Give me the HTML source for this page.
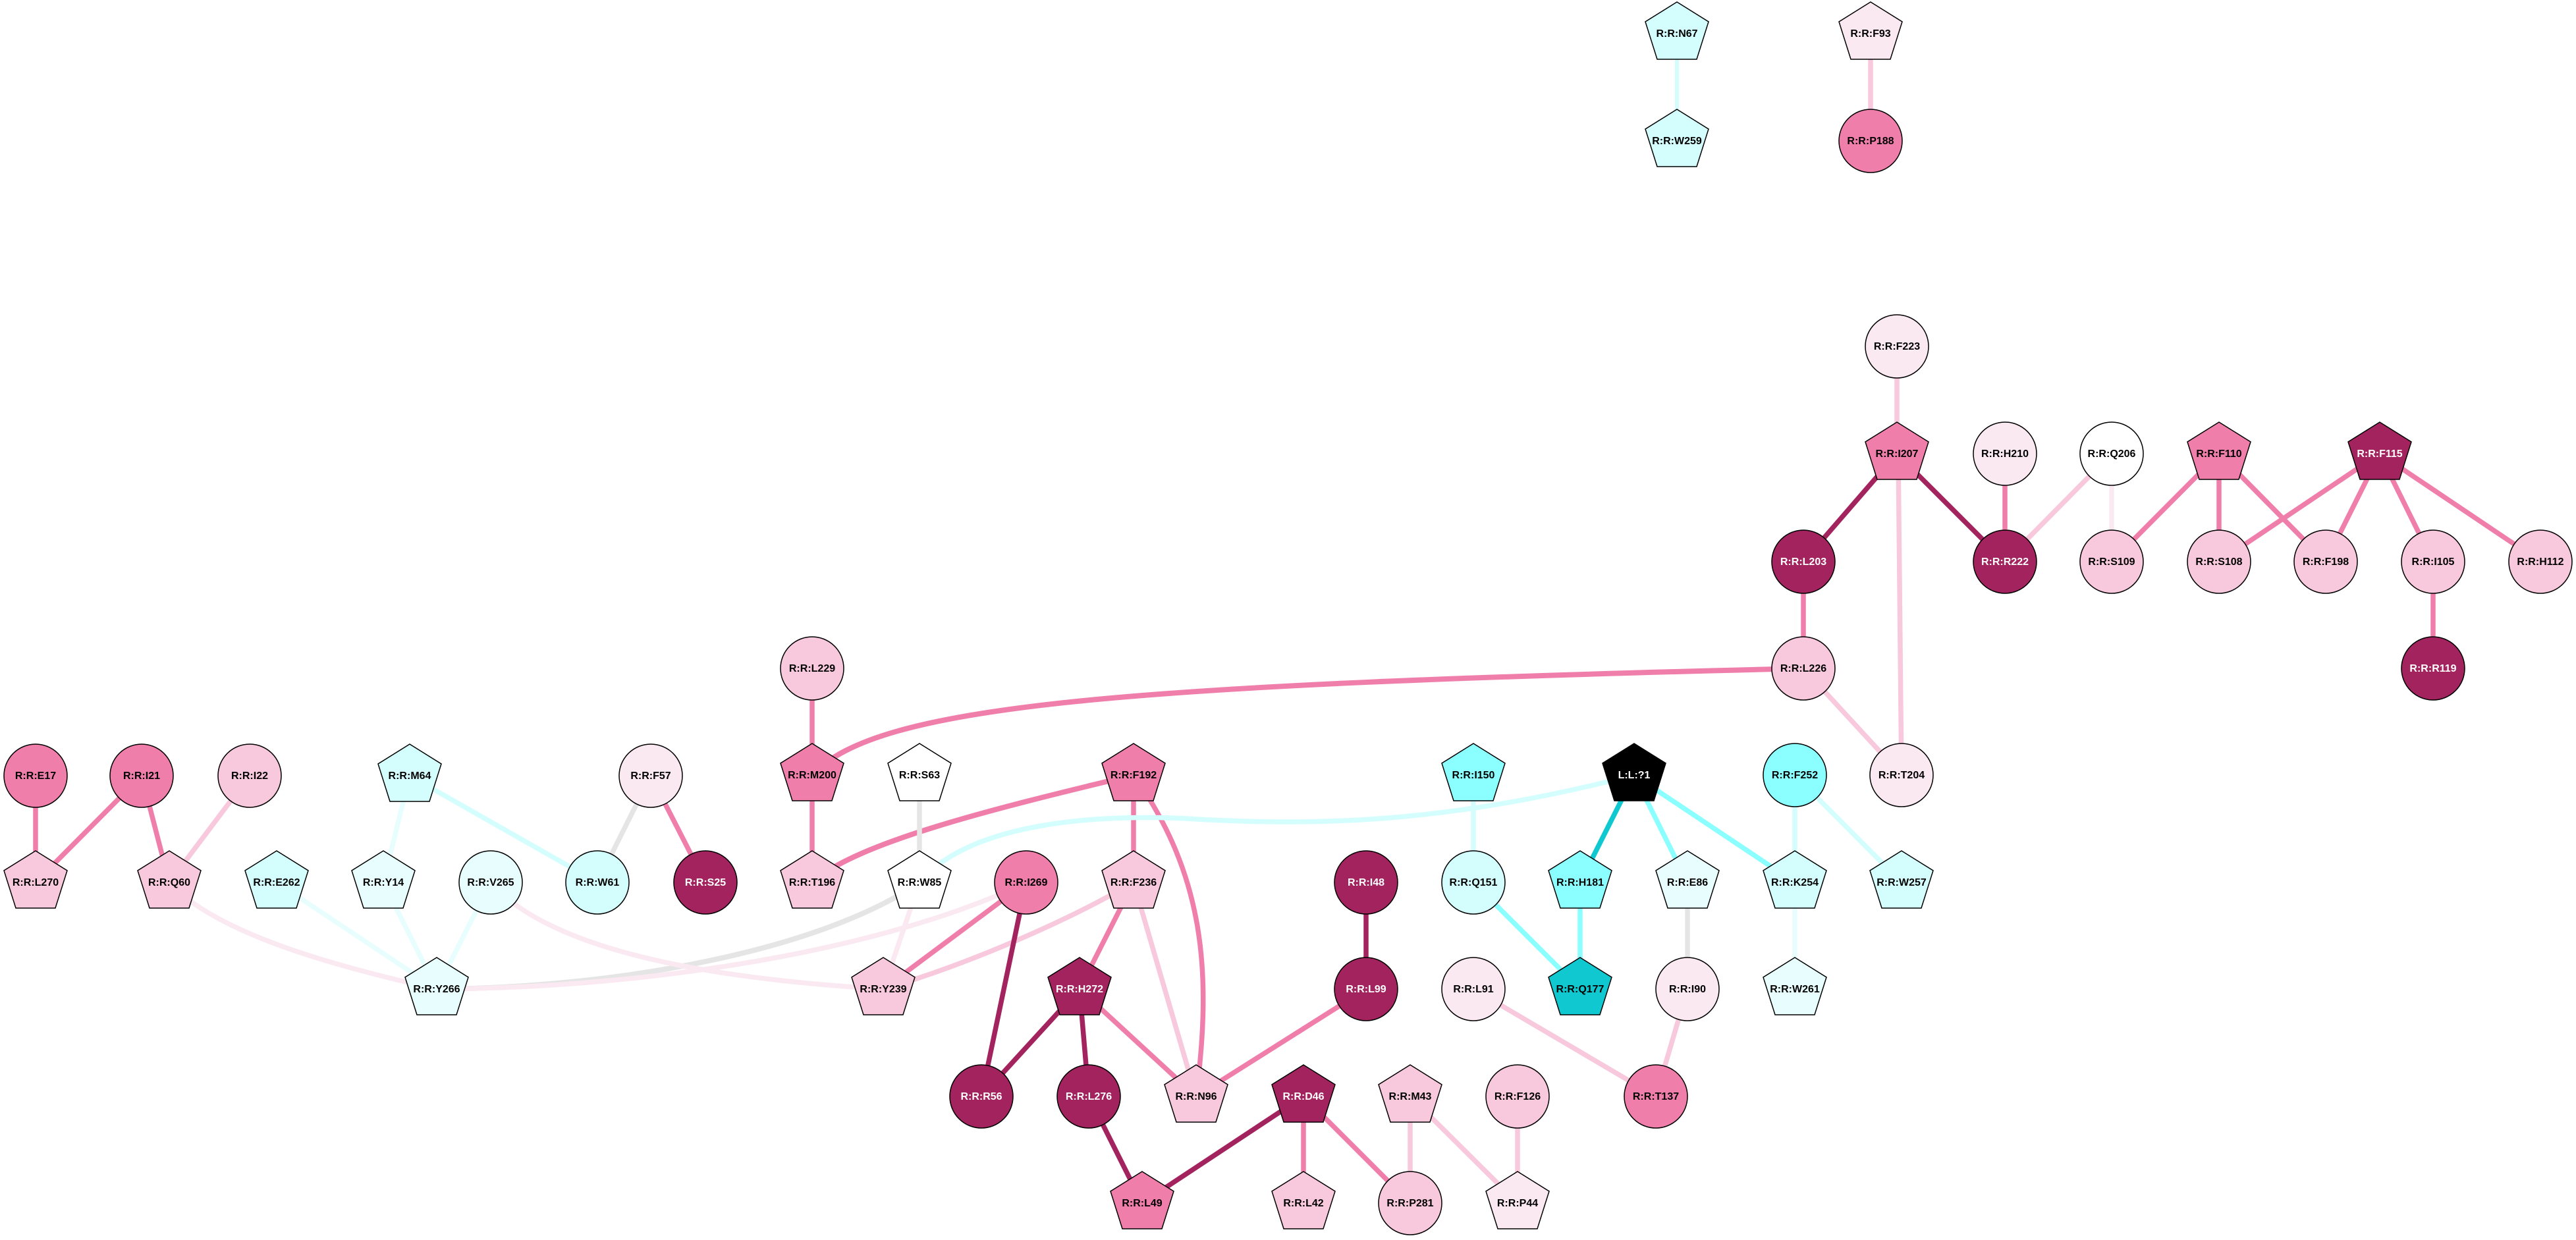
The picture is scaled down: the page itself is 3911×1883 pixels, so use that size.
<!DOCTYPE html>
<html><head><meta charset="utf-8"><style>
html,body{margin:0;padding:0;background:#fff}
svg{display:block}
text{font-family:"Liberation Sans",Arial,sans-serif;font-weight:bold;font-size:16px;text-anchor:middle}
.n{stroke:#000;stroke-width:1.5}
.e{fill:none;stroke-linecap:butt}
</style></head><body>
<svg width="3911" height="1883" viewBox="0 0 3911 1883" xmlns="http://www.w3.org/2000/svg">
<defs>
<polygon id="pg" points="0,-48 48,-18 30,39 -30,39 -48,-18"/>
</defs>
<g class="e" stroke-width="7.5">
<!-- top -->
<line x1="2546" y1="51" x2="2546" y2="214" stroke="#d4fefe" stroke-width="6"/>
<line x1="2840" y1="51" x2="2840" y2="214" stroke="#f8c8dc"/>
<line x1="2880" y1="526" x2="2880" y2="689" stroke="#f8c8dc"/>
<line x1="2880" y1="689" x2="2738" y2="853" stroke="#a3235e"/>
<line x1="2880" y1="689" x2="3044" y2="853" stroke="#a3235e"/>
<line x1="2882" y1="689" x2="2887" y2="1177" stroke="#f8c8dc"/>
<line x1="3044" y1="689" x2="3044" y2="853" stroke="#f07eab"/>
<line x1="3206" y1="689" x2="3044" y2="853" stroke="#f8c8dc"/>
<line x1="3206" y1="689" x2="3206" y2="853" stroke="#fbe9f1"/>
<line x1="3369" y1="689" x2="3206" y2="853" stroke="#f07eab"/>
<line x1="3369" y1="689" x2="3369" y2="853" stroke="#f07eab"/>
<line x1="3369" y1="689" x2="3531" y2="853" stroke="#f07eab"/>
<line x1="3613" y1="689" x2="3369" y2="853" stroke="#f07eab"/>
<line x1="3613" y1="689" x2="3531" y2="853" stroke="#f07eab"/>
<line x1="3613" y1="689" x2="3694" y2="853" stroke="#f07eab"/>
<line x1="3613" y1="689" x2="3857" y2="853" stroke="#f07eab"/>
<line x1="3694" y1="853" x2="3694" y2="1015" stroke="#f07eab"/>
<line x1="2738" y1="853" x2="2738" y2="1015" stroke="#f07eab"/>
<line x1="2738" y1="1015" x2="2887" y2="1177" stroke="#f8c8dc"/>
<path d="M2738,1015 C1700,1040 1330,1070 1233,1177" stroke="#f07eab" stroke-width="8"/>
<!-- middle -->
<line x1="1233" y1="1015" x2="1233" y2="1340" stroke="#f07eab"/>
<path d="M1721,1177 C1500,1230 1300,1280 1233,1340" stroke="#f07eab" stroke-width="8"/>
<line x1="1721" y1="1177" x2="1721" y2="1340" stroke="#f07eab"/>
<path d="M1721,1177 C1830,1330 1840,1480 1816,1665" stroke="#f07eab"/>
<line x1="1396" y1="1177" x2="1396" y2="1340" stroke="#e5e5e5"/>
<path d="M1396,1340 C1480,1240 1700,1238 1800,1243 C2000,1255 2200,1250 2481,1177" stroke="#d4fefe"/>
<path d="M1396,1340 C1250,1440 950,1500 663,1502" stroke="#e5e5e5" stroke-width="8"/>
<path d="M1558,1340 C1350,1440 1000,1500 663,1502" stroke="#fbe9f1"/>
<line x1="1396" y1="1340" x2="1341" y2="1502" stroke="#fbe9f1"/>
<line x1="1558" y1="1340" x2="1341" y2="1502" stroke="#f07eab"/>
<path d="M1721,1340 C1600,1410 1450,1470 1341,1502" stroke="#f8c8dc"/>
<line x1="1558" y1="1340" x2="1490" y2="1665" stroke="#a3235e"/>
<line x1="1721" y1="1340" x2="1639" y2="1502" stroke="#f07eab"/>
<line x1="1721" y1="1340" x2="1816" y2="1665" stroke="#f8c8dc"/>
<line x1="1639" y1="1502" x2="1490" y2="1665" stroke="#a3235e"/>
<line x1="1639" y1="1502" x2="1653" y2="1665" stroke="#a3235e"/>
<line x1="1639" y1="1502" x2="1816" y2="1665" stroke="#f07eab"/>
<line x1="1653" y1="1665" x2="1734" y2="1827" stroke="#a3235e"/>
<line x1="1979" y1="1665" x2="1734" y2="1827" stroke="#a3235e"/>
<line x1="1979" y1="1665" x2="1979" y2="1827" stroke="#f07eab"/>
<line x1="1979" y1="1665" x2="2141" y2="1827" stroke="#f07eab"/>
<line x1="2141" y1="1665" x2="2141" y2="1827" stroke="#f8c8dc"/>
<line x1="2141" y1="1665" x2="2304" y2="1827" stroke="#f8c8dc"/>
<line x1="2304" y1="1665" x2="2304" y2="1827" stroke="#f8c8dc"/>
<line x1="2074" y1="1502" x2="1816" y2="1665" stroke="#f07eab"/>
<line x1="2074" y1="1340" x2="2074" y2="1502" stroke="#a3235e"/>
<line x1="2237" y1="1177" x2="2237" y2="1340" stroke="#d4fefe"/>
<line x1="2237" y1="1340" x2="2399" y2="1502" stroke="#8bffff"/>
<line x1="2399" y1="1340" x2="2399" y2="1502" stroke="#8bffff"/>
<line x1="2481" y1="1177" x2="2399" y2="1340" stroke="#10c8d0"/>
<line x1="2481" y1="1177" x2="2562" y2="1340" stroke="#8bffff"/>
<line x1="2481" y1="1177" x2="2725" y2="1340" stroke="#8bffff"/>
<line x1="2725" y1="1177" x2="2725" y2="1340" stroke="#d4fefe"/>
<line x1="2725" y1="1177" x2="2887" y2="1340" stroke="#d4fefe"/>
<line x1="2725" y1="1340" x2="2725" y2="1502" stroke="#e8fefe"/>
<line x1="2562" y1="1340" x2="2562" y2="1502" stroke="#e5e5e5"/>
<line x1="2562" y1="1502" x2="2514" y2="1665" stroke="#f8c8dc"/>
<line x1="2237" y1="1502" x2="2514" y2="1665" stroke="#f8c8dc"/>
<!-- left -->
<path d="M745,1340 C850,1460 1150,1490 1341,1502" stroke="#fbe9f1"/>
<path d="M257,1340 C330,1420 520,1470 663,1502" stroke="#fbe9f1"/>
<line x1="420" y1="1340" x2="663" y2="1502" stroke="#e8fefe"/>
<line x1="582" y1="1340" x2="663" y2="1502" stroke="#e8fefe"/>
<line x1="745" y1="1340" x2="663" y2="1502" stroke="#e8fefe"/>
<line x1="622" y1="1178" x2="582" y2="1340" stroke="#e8fefe"/>
<line x1="622" y1="1178" x2="907" y2="1340" stroke="#d4fefe"/>
<line x1="988" y1="1178" x2="907" y2="1340" stroke="#e5e5e5"/>
<line x1="988" y1="1178" x2="1071" y2="1340" stroke="#f07eab"/>
<line x1="54" y1="1178" x2="54" y2="1340" stroke="#f07eab"/>
<line x1="215" y1="1178" x2="54" y2="1340" stroke="#f07eab"/>
<line x1="215" y1="1178" x2="257" y2="1340" stroke="#f07eab"/>
<line x1="379" y1="1178" x2="257" y2="1340" stroke="#f8c8dc"/>
</g>
<g class="n">
<!-- pentagons -->
<use href="#pg" x="2546" y="51" fill="#d4fefe"/>
<use href="#pg" x="2546" y="214" fill="#d4fefe"/>
<use href="#pg" x="2840" y="51" fill="#fbe9f1"/>
<use href="#pg" x="2880" y="689" fill="#f07eab"/>
<use href="#pg" x="3369" y="689" fill="#f07eab"/>
<use href="#pg" x="3613" y="689" fill="#a3235e"/>
<use href="#pg" x="1233" y="1177" fill="#f07eab"/>
<use href="#pg" x="1396" y="1177" fill="#ffffff"/>
<use href="#pg" x="1721" y="1177" fill="#f07eab"/>
<use href="#pg" x="2237" y="1177" fill="#8bffff"/>
<use href="#pg" x="2481" y="1177" fill="#000000"/>
<use href="#pg" x="1233" y="1340" fill="#f8c8dc"/>
<use href="#pg" x="1396" y="1340" fill="#ffffff"/>
<use href="#pg" x="1721" y="1340" fill="#f8c8dc"/>
<use href="#pg" x="2399" y="1340" fill="#8bffff"/>
<use href="#pg" x="2562" y="1340" fill="#e8fefe"/>
<use href="#pg" x="2725" y="1340" fill="#d4fefe"/>
<use href="#pg" x="2887" y="1340" fill="#d4fefe"/>
<use href="#pg" x="1341" y="1502" fill="#f8c8dc"/>
<use href="#pg" x="1639" y="1502" fill="#a3235e"/>
<use href="#pg" x="2399" y="1502" fill="#10c8d0"/>
<use href="#pg" x="2725" y="1502" fill="#e8fefe"/>
<use href="#pg" x="1816" y="1665" fill="#f8c8dc"/>
<use href="#pg" x="1979" y="1665" fill="#a3235e"/>
<use href="#pg" x="2141" y="1665" fill="#f8c8dc"/>
<use href="#pg" x="1734" y="1827" fill="#f07eab"/>
<use href="#pg" x="1979" y="1827" fill="#f8c8dc"/>
<use href="#pg" x="2304" y="1827" fill="#fbe9f1"/>
<use href="#pg" x="622" y="1178" fill="#d4fefe"/>
<use href="#pg" x="54" y="1340" fill="#f8c8dc"/>
<use href="#pg" x="257" y="1340" fill="#f8c8dc"/>
<use href="#pg" x="420" y="1340" fill="#d4fefe"/>
<use href="#pg" x="582" y="1340" fill="#e8fefe"/>
<use href="#pg" x="663" y="1502" fill="#e8fefe"/>
<!-- circles -->
<circle cx="2840" cy="214" r="48" fill="#f07eab"/>
<circle cx="2880" cy="526" r="48" fill="#fbe9f1"/>
<circle cx="3044" cy="689" r="48" fill="#fbe9f1"/>
<circle cx="3206" cy="689" r="48" fill="#ffffff"/>
<circle cx="2738" cy="853" r="48" fill="#a3235e"/>
<circle cx="3044" cy="853" r="48" fill="#a3235e"/>
<circle cx="3206" cy="853" r="48" fill="#f8c8dc"/>
<circle cx="3369" cy="853" r="48" fill="#f8c8dc"/>
<circle cx="3531" cy="853" r="48" fill="#f8c8dc"/>
<circle cx="3694" cy="853" r="48" fill="#f8c8dc"/>
<circle cx="3857" cy="853" r="48" fill="#f8c8dc"/>
<circle cx="3694" cy="1015" r="48" fill="#a3235e"/>
<circle cx="2738" cy="1015" r="48" fill="#f8c8dc"/>
<circle cx="2887" cy="1177" r="48" fill="#fbe9f1"/>
<circle cx="2725" cy="1177" r="48" fill="#8bffff"/>
<circle cx="1233" cy="1015" r="48" fill="#f8c8dc"/>
<circle cx="1558" cy="1340" r="48" fill="#f07eab"/>
<circle cx="2074" cy="1340" r="48" fill="#a3235e"/>
<circle cx="2237" cy="1340" r="48" fill="#d4fefe"/>
<circle cx="2074" cy="1502" r="48" fill="#a3235e"/>
<circle cx="2237" cy="1502" r="48" fill="#fbe9f1"/>
<circle cx="2562" cy="1502" r="48" fill="#fbe9f1"/>
<circle cx="1490" cy="1665" r="48" fill="#a3235e"/>
<circle cx="1653" cy="1665" r="48" fill="#a3235e"/>
<circle cx="2304" cy="1665" r="48" fill="#f8c8dc"/>
<circle cx="2514" cy="1665" r="48" fill="#f07eab"/>
<circle cx="2141" cy="1827" r="48" fill="#f8c8dc"/>
<circle cx="54" cy="1178" r="48" fill="#f07eab"/>
<circle cx="215" cy="1178" r="48" fill="#f07eab"/>
<circle cx="379" cy="1178" r="48" fill="#f8c8dc"/>
<circle cx="988" cy="1178" r="48" fill="#fbe9f1"/>
<circle cx="745" cy="1340" r="48" fill="#e8fefe"/>
<circle cx="907" cy="1340" r="48" fill="#d4fefe"/>
<circle cx="1071" cy="1340" r="48" fill="#a3235e"/>
</g>
<g fill="#000">
<text x="2546" y="56">R:R:N67</text>
<text x="2546" y="219">R:R:W259</text>
<text x="2840" y="56">R:R:F93</text>
<text x="2840" y="219">R:R:P188</text>
<text x="2880" y="531">R:R:F223</text>
<text x="2880" y="694">R:R:I207</text>
<text x="3044" y="694">R:R:H210</text>
<text x="3206" y="694">R:R:Q206</text>
<text x="3369" y="694">R:R:F110</text>
<text x="3206" y="858">R:R:S109</text>
<text x="3369" y="858">R:R:S108</text>
<text x="3531" y="858">R:R:F198</text>
<text x="3694" y="858">R:R:I105</text>
<text x="3857" y="858">R:R:H112</text>
<text x="2738" y="1020">R:R:L226</text>
<text x="2887" y="1182">R:R:T204</text>
<text x="2725" y="1182">R:R:F252</text>
<text x="1233" y="1020">R:R:L229</text>
<text x="1233" y="1182">R:R:M200</text>
<text x="1396" y="1182">R:R:S63</text>
<text x="1721" y="1182">R:R:F192</text>
<text x="2237" y="1182">R:R:I150</text>
<text x="1233" y="1345">R:R:T196</text>
<text x="1396" y="1345">R:R:W85</text>
<text x="1558" y="1345">R:R:I269</text>
<text x="1721" y="1345">R:R:F236</text>
<text x="2237" y="1345">R:R:Q151</text>
<text x="2399" y="1345">R:R:H181</text>
<text x="2562" y="1345">R:R:E86</text>
<text x="2725" y="1345">R:R:K254</text>
<text x="2887" y="1345">R:R:W257</text>
<text x="1341" y="1507">R:R:Y239</text>
<text x="2237" y="1507">R:R:L91</text>
<text x="2399" y="1507">R:R:Q177</text>
<text x="2562" y="1507">R:R:I90</text>
<text x="2725" y="1507">R:R:W261</text>
<text x="1816" y="1670">R:R:N96</text>
<text x="2141" y="1670">R:R:M43</text>
<text x="2304" y="1670">R:R:F126</text>
<text x="2514" y="1670">R:R:T137</text>
<text x="1734" y="1832">R:R:L49</text>
<text x="1979" y="1832">R:R:L42</text>
<text x="2141" y="1832">R:R:P281</text>
<text x="2304" y="1832">R:R:P44</text>
<text x="54" y="1183">R:R:E17</text>
<text x="215" y="1183">R:R:I21</text>
<text x="379" y="1183">R:R:I22</text>
<text x="622" y="1183">R:R:M64</text>
<text x="988" y="1183">R:R:F57</text>
<text x="54" y="1345">R:R:L270</text>
<text x="257" y="1345">R:R:Q60</text>
<text x="420" y="1345">R:R:E262</text>
<text x="582" y="1345">R:R:Y14</text>
<text x="745" y="1345">R:R:V265</text>
<text x="907" y="1345">R:R:W61</text>
<text x="663" y="1507">R:R:Y266</text>
</g>
<g fill="#fff">
<text x="3613" y="694">R:R:F115</text>
<text x="2738" y="858">R:R:L203</text>
<text x="3044" y="858">R:R:R222</text>
<text x="3694" y="1020">R:R:R119</text>
<text x="2481" y="1182">L:L:?1</text>
<text x="2074" y="1345">R:R:I48</text>
<text x="1639" y="1507">R:R:H272</text>
<text x="2074" y="1507">R:R:L99</text>
<text x="1490" y="1670">R:R:R56</text>
<text x="1653" y="1670">R:R:L276</text>
<text x="1979" y="1670">R:R:D46</text>
<text x="1071" y="1345">R:R:S25</text>
</g>
</svg>
</body></html>
